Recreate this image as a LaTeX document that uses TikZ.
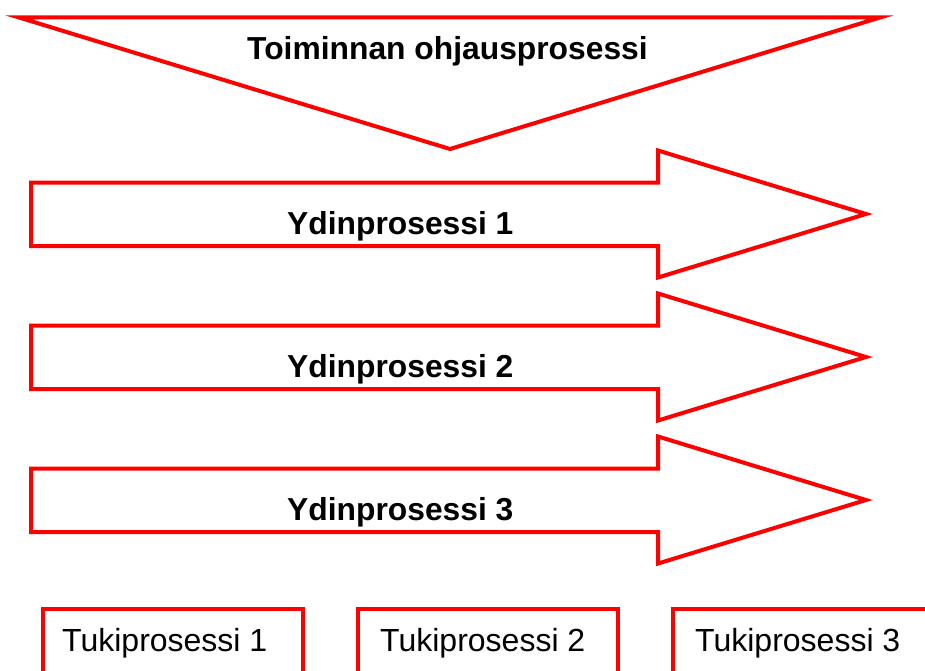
\documentclass[tikz,border=0pt]{standalone}
\usepackage{fontspec}
\setmainfont{Liberation Sans}
\definecolor{procred}{RGB}{255,0,0}
\tikzset{
  procline/.style={draw=procred, line width=4pt, miter limit=10},
  boldlabel/.style={inner sep=0pt, anchor=base west, font=\fontsize{31.8}{38}\selectfont\bfseries},
  plainlabel/.style={inner sep=0pt, anchor=base west, font=\fontsize{32}{38}\selectfont},
}
\begin{document}
\begin{tikzpicture}[x=1pt,y=-1pt]
\useasboundingbox (0,0) rectangle (925,671);
\clip (0,0) rectangle (925,671);
% top triangle
\draw[procline] (19,17.5) -- (880,17.5) -- (450,149) -- cycle;
\node[boldlabel] (ohjaus) at (247,60) {Toiminnan ohjausprosessi};
% core process arrows
\foreach \i/\dy in {1/0,2/143,3/286}{
  \draw[procline] (31,182.5+\dy) -- (658,182.5+\dy) -- (658,150.5+\dy) -- (866,214+\dy)
    -- (658,277.5+\dy) -- (658,246+\dy) -- (31,246+\dy) -- cycle;
  \node[boldlabel] (ydin\i) at (287,234+\dy) {Ydinprosessi \i};
}
% support process boxes
\draw[procline] (43,609) rectangle (303,700);
\draw[procline] (358,609) rectangle (618,700);
\draw[procline] (673,609) rectangle (960,700);
\node[plainlabel] (tuki1) at (62,651) {Tukiprosessi 1};
\node[plainlabel] (tuki2) at (380,651) {Tukiprosessi 2};
\node[plainlabel] (tuki3) at (695,651) {Tukiprosessi 3};
\end{tikzpicture}
\end{document}
